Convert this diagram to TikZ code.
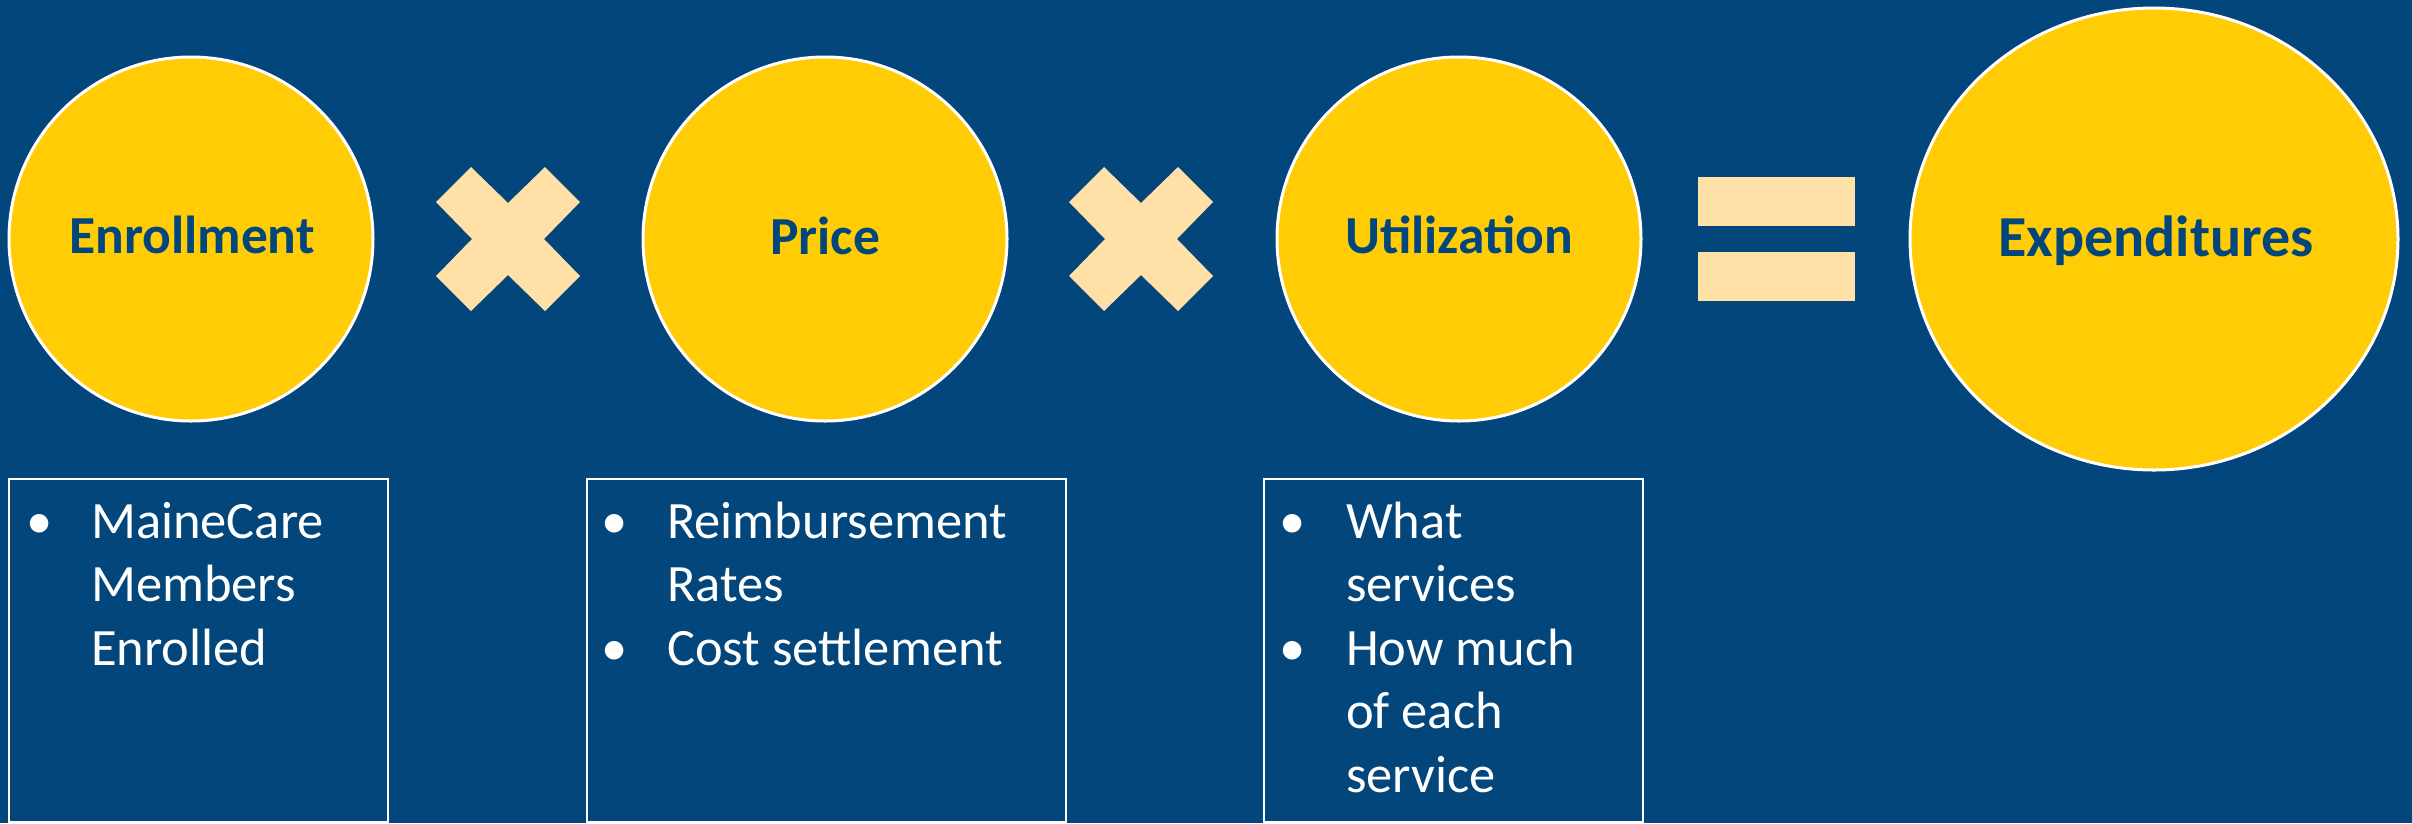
\documentclass[tikz,border=0pt]{standalone}
\usepackage{fontspec}
\setmainfont{Carlito}
\usetikzlibrary{shapes.geometric}
\definecolor{bg}{HTML}{02467C}
\definecolor{gold}{HTML}{FFCC05}
\definecolor{peach}{HTML}{FFE1A8}
\tikzset{
 ball/.style={circle, fill=gold, draw=white, line width=3pt, minimum size=364pt, inner sep=0pt},
 bigball/.style={ellipse, fill=gold, draw=white, line width=3pt, minimum width=488pt, minimum height=462pt, inner sep=0pt},
 lbl/.style={anchor=base, text=bg, inner sep=0pt, font=\fontsize{53.5}{60}\selectfont\bfseries},
 biglbl/.style={anchor=base, text=bg, inner sep=0pt, font=\fontsize{58}{66}\selectfont\bfseries},
 box/.style={draw=white, line width=1.5pt, anchor=north west, inner sep=0pt},
 itm/.style={anchor=base west, text=white, inner sep=0pt, font=\fontsize{52.5}{63}\selectfont},
 bul/.style={anchor=base, text=white, inner sep=0pt, font=\fontsize{52.5}{63}\selectfont},
 sym/.style={fill=peach}
}
\begin{document}
\begin{tikzpicture}[x=1pt,y=-1pt]
\useasboundingbox (0,0) rectangle (2412,823);
\fill[bg] (0,0) rectangle (2412,823);
% circles
\node[ball] (enr) at (191,239) {};
\node[ball] (pri) at (825,239) {};
\node[ball] (uti) at (1459,239) {};
\node[bigball] (exp) at (2154,239) {};
\node[lbl] (enrT) at (192,253) {Enrollment};
\node[lbl] (priT) at (825,254) {Price};
\node[lbl] (utiT) at (1459,253) {Utilization};
\node[biglbl] (expT) at (2156,256) {Expenditures};
% multiplication signs
\foreach \cx in {508,1141}{
 \fill[sym, shift={(\cx,239)}] (0,-36) -- (37,-72) -- (72,-37) -- (36,0) -- (72,37) -- (37,72) -- (0,36) -- (-37,72) -- (-72,37) -- (-36,0) -- (-72,-37) -- (-37,-72) -- cycle;
}
% equals sign
\fill[sym] (1698,177) rectangle (1855,226);
\fill[sym] (1698,252) rectangle (1855,301);
% boxes
\node[box, minimum width=379pt, minimum height=343pt] (b1) at (8,478) {};
\node[box, minimum width=479pt, minimum height=343pt] (b2) at (586,478) {};
\node[box, minimum width=379pt, minimum height=343pt] (b3) at (1263,478) {};
% box 1 text
\node[bul] (b1d1) at (40,538) {•};
\node[itm] (b1l1) at (91,538) {MaineCare};
\node[itm] (b1l2) at (91,601) {Members};
\node[itm] (b1l3) at (91,665) {Enrolled};
% box 2 text
\node[bul] (b2d1) at (615,538) {•};
\node[itm] (b2l1) at (667,538) {Reimbursement};
\node[itm] (b2l2) at (667,601) {Rates};
\node[bul] (b2d2) at (615,665) {•};
\node[itm] (b2l3) at (667,665) {Cost settlement};
% box 3 text
\node[bul] (b3d1) at (1293,538) {•};
\node[itm] (b3l1) at (1346,538) {What};
\node[itm] (b3l2) at (1346,601) {services};
\node[bul] (b3d2) at (1293,665) {•};
\node[itm] (b3l3) at (1346,665) {How much};
\node[itm] (b3l4) at (1346,728) {of each};
\node[itm] (b3l5) at (1346,792) {service};
\end{tikzpicture}
\end{document}
